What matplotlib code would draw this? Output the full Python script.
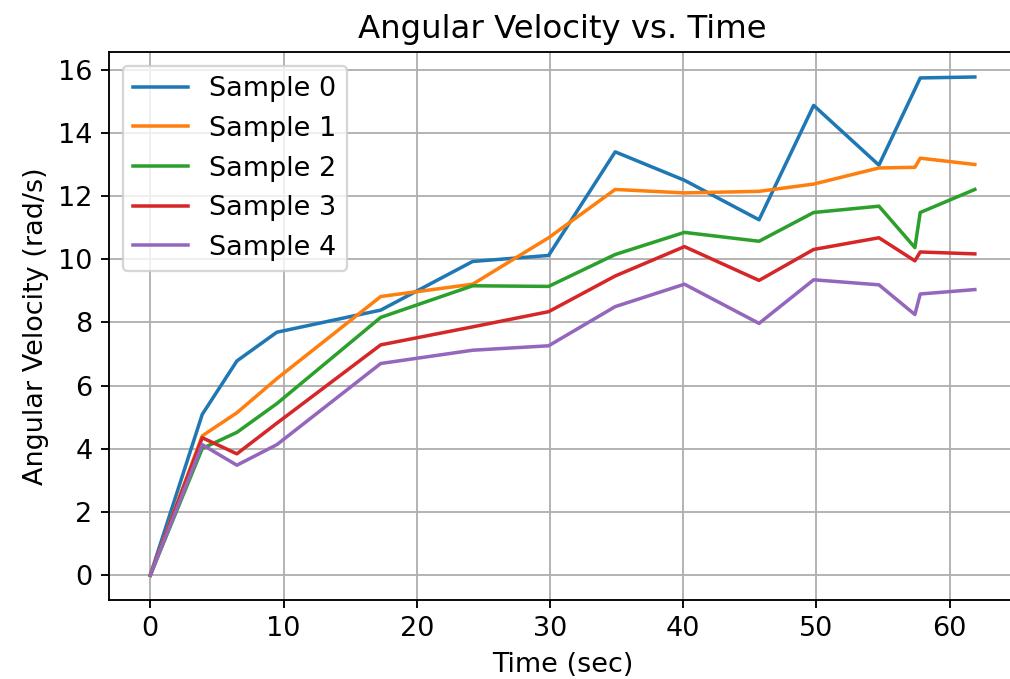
#!/usr/bin/env python3
"""
Angular velocity vs. time for five samples.
Saves out.png.
"""

import matplotlib
matplotlib.use("Agg")
import matplotlib.pyplot as plt

# ── Data ─────────────────────────────────────────────────────────────────────
time_sec = [0, 3.9, 6.5, 9.5, 17.3, 24.2, 29.9, 34.9, 40.1, 45.7, 49.8, 54.7, 57.4, 57.8, 61.9]

sample_0 = [0, 5.09, 6.78, 7.69, 8.39, 9.93, 10.12, 13.40, 12.50, 11.25, 14.87, 12.98, 15.38, 15.74, 15.77]
sample_1 = [0, 4.41, 5.14, 6.22, 8.82, 9.21, 10.68, 12.21, 12.10, 12.15, 12.38, 12.89, 12.91, 13.20, 13.00]
sample_2 = [0, 4.01, 4.52, 5.43, 8.16, 9.16, 9.14, 10.15, 10.85, 10.57, 11.48, 11.68, 10.37, 11.48, 12.21]
sample_3 = [0, 4.35, 3.84, 4.81, 7.29, 7.86, 8.34, 9.47, 10.40, 9.33, 10.31, 10.68, 9.95, 10.23, 10.17]
sample_4 = [0, 4.13, 3.48, 4.13, 6.70, 7.12, 7.26, 8.50, 9.21, 7.97, 9.35, 9.19, 8.25, 8.90, 9.04]

labels = ["Sample 0", "Sample 1", "Sample 2", "Sample 3", "Sample 4"]
series = [sample_0, sample_1, sample_2, sample_3, sample_4]

# ── Style: reference text renders ~16% wider than default ────────────────────
plt.rcParams.update({
    "font.size":       11.6,
    "axes.titlesize":  13.9,
    "axes.labelsize":  11.6,
    "xtick.labelsize": 11.6,
    "ytick.labelsize": 11.6,
    "legend.fontsize": 11.6,
})

# ── Figure ───────────────────────────────────────────────────────────────────
DPI = 168
fig = plt.figure(figsize=(1010 / DPI, 679 / DPI), dpi=DPI)
# right edge of the axes falls just past the image border in the reference
ax = fig.add_axes([0.108, 0.1163, 0.898, 0.807])

for lab, vals in zip(labels, series):
    ax.plot(time_sec, vals, label=lab)

ax.set_title("Angular Velocity vs. Time")
ax.set_xlabel("Time (sec)")
ax.set_ylabel("Angular Velocity (rad/s)")
ax.grid(True)
ax.legend(loc="upper left")
ax.spines["right"].set_visible(False)  # cropped off in the reference

fig.savefig("out.png", dpi=DPI)
